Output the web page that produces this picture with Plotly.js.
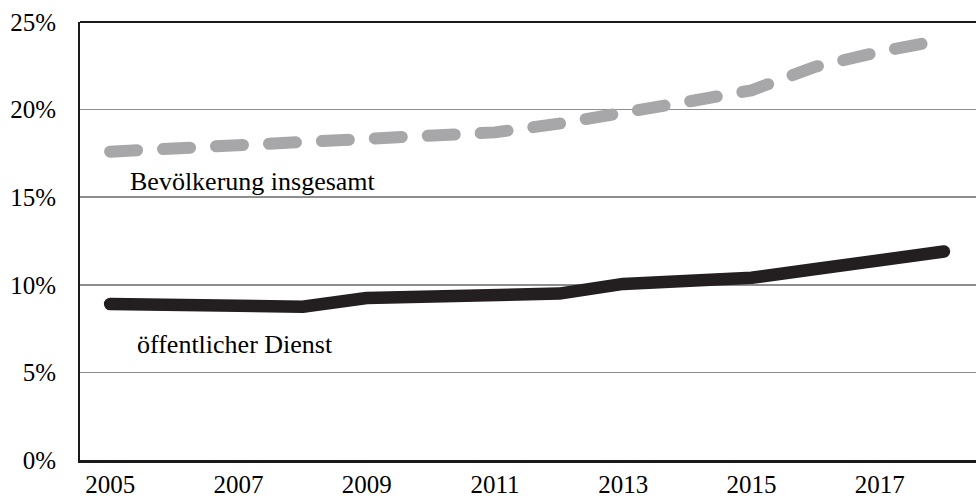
<!DOCTYPE html>
<html>
<head>
<meta charset="utf-8">
<script src="https://cdn.plot.ly/plotly-3.0.1.min.js"></script>
<style>
  html, body { margin: 0; padding: 0; background: #fff; }
  #chart { width: 976px; height: 501px; }
  .js-line { stroke-linecap: round !important; stroke-linejoin: round !important; }
</style>
</head>
<body>
<div id="chart"></div>
<script>
const years = [2005, 2006, 2007, 2008, 2009, 2010, 2011, 2012, 2013, 2014, 2015, 2016, 2017, 2018];
const bevoelkerung = [17.6, 17.8, 18.0, 18.2, 18.3, 18.45, 18.7, 19.2, 19.9, 20.45, 21.1, 22.45, 23.3, 24.0];
const oeffentlicherDienst = [8.9, 8.8, 8.8, 8.75, 9.25, 9.3, 9.35, 9.5, 10.05, 10.2, 10.4, 10.9, 11.35, 11.9];
const xTicks = [2005, 2007, 2009, 2011, 2013, 2015, 2017];
const yTicks = [0, 5, 10, 15, 20, 25];
const yTickText = ['0%', '5%', '10%', '15%', '20%', '25%'];
const labelBevoelkerung = 'Bevölkerung insgesamt';
const labelDienst = 'öffentlicher Dienst';

const font = 'Liberation Serif, Times New Roman, serif';

const traces = [
  {
    x: years, y: bevoelkerung, type: 'scatter', mode: 'lines',
    line: { color: '#a7a7a9', width: 12, dash: '27px,26px' },
    hoverinfo: 'skip'
  },
  {
    x: years, y: oeffentlicherDienst, type: 'scatter', mode: 'lines',
    line: { color: '#231f20', width: 12.5 },
    hoverinfo: 'skip'
  }
];

const layout = {
  width: 976, height: 501,
  margin: { l: 80, r: 0, t: 22, b: 41 },
  paper_bgcolor: '#ffffff', plot_bgcolor: '#ffffff',
  showlegend: false,
  font: { family: font, color: '#000000', size: 25 },
  xaxis: {
    range: [2004.53, 2018.5],
    tickvals: xTicks, ticktext: xTicks.map(String),
    showgrid: false, zeroline: false,
    showline: true, linecolor: '#1a1a1a', linewidth: 2.5,
    ticks: '', ticklabelstandoff: 0,
    tickfont: { family: font, size: 25, color: '#000' }
  },
  yaxis: {
    range: [0, 25],
    tickvals: yTicks, ticktext: yTickText,
    showgrid: true, gridcolor: '#8e8e8e', gridwidth: 1.5,
    zeroline: false,
    showline: true, linecolor: '#1a1a1a', linewidth: 2,
    ticks: '', ticklabelstandoff: 17,
    tickfont: { family: font, size: 25, color: '#000' }
  },
  shapes: [
    { type: 'line', xref: 'paper', yref: 'paper', x0: 0, x1: 1, y0: 1, y1: 1,
      line: { color: '#1a1a1a', width: 1.8 } }
  ],
  annotations: [
    { x: 2005.28, y: 15.9, xref: 'x', yref: 'y', text: labelBevoelkerung, showarrow: false,
      xanchor: 'left', yanchor: 'middle', font: { family: font, size: 26, color: '#000' } },
    { x: 2005.39, y: 6.6, xref: 'x', yref: 'y', text: labelDienst, showarrow: false,
      xanchor: 'left', yanchor: 'middle', font: { family: font, size: 26, color: '#000' } }
  ]
};

Plotly.newPlot('chart', traces, layout, { staticPlot: true, displayModeBar: false });
</script>
</body>
</html>
